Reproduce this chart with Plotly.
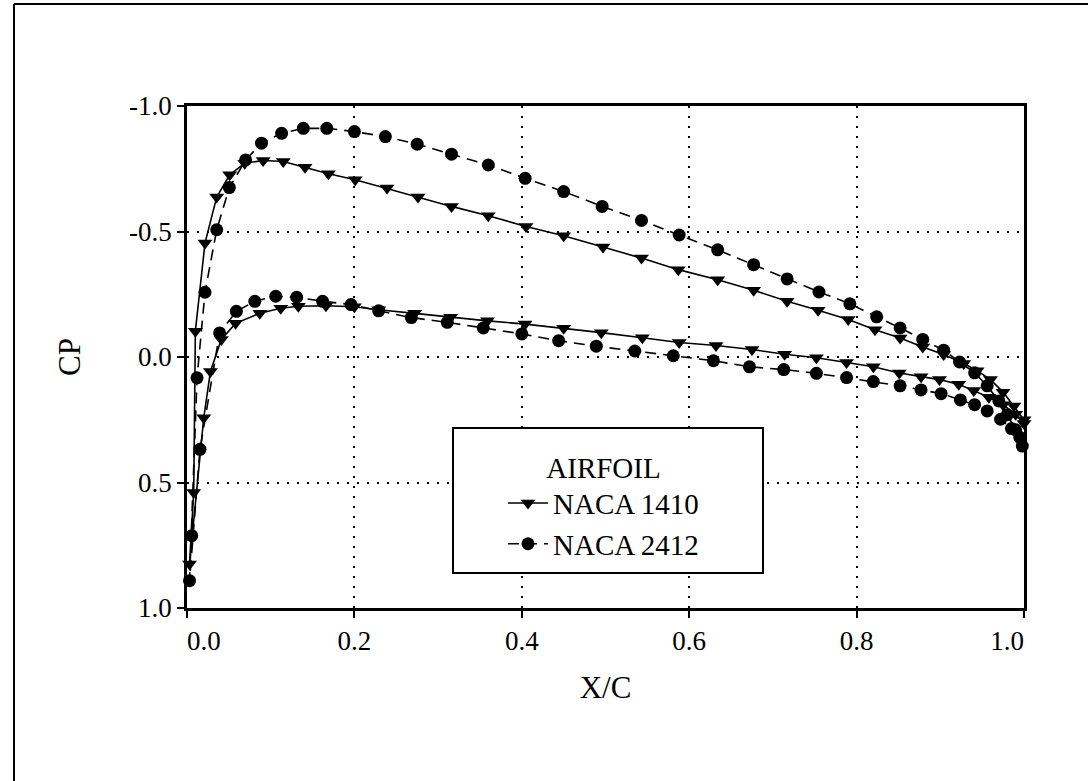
import plotly.graph_objects as go

# ---------------- data ----------------
# NACA 1410: trailing edge -> upper surface -> leading edge -> lower surface -> trailing edge
naca1410_x = [1.000, 0.988, 0.975, 0.960, 0.944, 0.928, 0.904, 0.879, 0.852, 0.822,
              0.790, 0.754, 0.717, 0.677, 0.634, 0.587, 0.543, 0.497, 0.450, 0.405,
              0.360, 0.316, 0.276, 0.239, 0.201, 0.169, 0.141, 0.115, 0.091, 0.069,
              0.051, 0.0355, 0.0215, 0.010, 0.008, 0.003,
              0.020, 0.028, 0.041, 0.058, 0.087, 0.112, 0.133, 0.166, 0.200, 0.229,
              0.272, 0.315, 0.359, 0.404, 0.450, 0.495, 0.544, 0.588, 0.632, 0.675,
              0.714, 0.752, 0.788, 0.820, 0.851, 0.877, 0.899, 0.922, 0.940, 0.958,
              0.975, 0.990, 1.000]
naca1410_cp = [0.250, 0.195, 0.140, 0.090, 0.055, 0.026, -0.010, -0.040, -0.076, -0.109,
               -0.149, -0.186, -0.222, -0.266, -0.308, -0.348, -0.394, -0.438, -0.483, -0.520,
               -0.563, -0.600, -0.637, -0.673, -0.706, -0.730, -0.756, -0.779, -0.783, -0.772,
               -0.726, -0.637, -0.454, -0.103, 0.540, 0.825,
               0.242, 0.058, -0.070, -0.134, -0.174, -0.194, -0.202, -0.204, -0.200, -0.188,
               -0.174, -0.158, -0.144, -0.131, -0.115, -0.097, -0.077, -0.058, -0.046, -0.030,
               -0.011, 0.003, 0.022, 0.039, 0.064, 0.079, 0.090, 0.109, 0.133, 0.160,
               0.190, 0.228, 0.265]

# NACA 2412: trailing edge -> upper surface -> leading edge -> lower surface -> trailing edge
naca2412_x = [0.998, 0.990, 0.980, 0.970, 0.956, 0.941, 0.923, 0.904, 0.879, 0.852,
              0.824, 0.792, 0.755, 0.717, 0.677, 0.634, 0.588, 0.543, 0.496, 0.450,
              0.404, 0.360, 0.316, 0.275, 0.237, 0.200, 0.167, 0.139, 0.113, 0.089,
              0.070, 0.0506, 0.0355, 0.0215, 0.012, 0.0056, 0.003,
              0.0155, 0.039, 0.059, 0.081, 0.106, 0.131, 0.162, 0.196, 0.229, 0.268,
              0.311, 0.354, 0.400, 0.444, 0.489, 0.535, 0.581, 0.629, 0.672, 0.713,
              0.752, 0.788, 0.820, 0.852, 0.877, 0.901, 0.924, 0.941, 0.956, 0.972,
              0.985, 0.995]
naca2412_cp = [0.355, 0.290, 0.230, 0.175, 0.115, 0.063, 0.020, -0.027, -0.070, -0.116,
               -0.160, -0.212, -0.259, -0.311, -0.368, -0.427, -0.486, -0.544, -0.600, -0.659,
               -0.712, -0.765, -0.808, -0.848, -0.878, -0.898, -0.911, -0.911, -0.891, -0.852,
               -0.785, -0.675, -0.507, -0.258, 0.083, 0.712, 0.891,
               0.368, -0.096, -0.182, -0.222, -0.242, -0.238, -0.222, -0.209, -0.184, -0.157,
               -0.138, -0.116, -0.092, -0.065, -0.043, -0.024, -0.005, 0.015, 0.039, 0.050,
               0.065, 0.082, 0.098, 0.115, 0.131, 0.146, 0.171, 0.190, 0.215, 0.248,
               0.285, 0.320]

x_tickvals = [0.0, 0.2, 0.4, 0.6, 0.8, 1.0]
x_ticktext = ["\u00a0\u00a0\u00a0\u00a0\u00a00.0", "0.2", "0.4", "0.6", "0.8",
              "1.0\u00a0\u00a0\u00a0\u00a0\u00a0"]
y_tickvals = [-1.0, -0.5, 0.0, 0.5, 1.0]
y_ticktext = ["-1.0", "-0.5", "0.0", "0.5", "1.0"]

FONT = "Liberation Serif, Times New Roman, serif"

fig = go.Figure()
fig.add_trace(go.Scatter(
    x=naca1410_x, y=naca1410_cp, name="NACA 1410", mode="lines+markers",
    line=dict(color="black", width=1.6, dash="solid"),
    marker=dict(symbol="triangle-down", size=13, color="black"),
    cliponaxis=False))
fig.add_trace(go.Scatter(
    x=naca2412_x, y=naca2412_cp, name="NACA 2412", mode="lines+markers",
    line=dict(color="black", width=1.6, dash="11px,7px"),
    marker=dict(symbol="circle", size=13, color="black"),
    cliponaxis=False))

L, R, T, B = 187, 64, 106, 173
W, H = 1088, 781
pw, ph = W - L - R, H - T - B

def px2paper(px, py):
    return (px - L) / pw, (H - B - py) / ph

# legend frame (white box)
lx0, ly0 = px2paper(453, 573)
lx1, ly1 = px2paper(763, 428)
fig.add_shape(type="rect", xref="paper", yref="paper", x0=lx0, y0=ly0, x1=lx1, y1=ly1,
              line=dict(color="black", width=2), fillcolor="white", layer="above")
# outer page frame (left and top lines)
fx0, fy0 = px2paper(14, 781)
fx1, fy1 = px2paper(1088, 4)
fig.add_shape(type="line", xref="paper", yref="paper", x0=fx0, y0=fy0, x1=fx0, y1=fy1,
              line=dict(color="black", width=2))
fig.add_shape(type="line", xref="paper", yref="paper", x0=fx0, y0=fy1, x1=fx1, y1=fy1,
              line=dict(color="black", width=2))

axis_common = dict(showline=True, linecolor="black", linewidth=2.5, mirror=True,
                   ticks="outside", ticklen=7, tickwidth=1.5, tickcolor="black",
                   showgrid=True, gridcolor="black", gridwidth=2, griddash="2px,8px",
                   zeroline=False, tickfont=dict(family=FONT, size=27, color="black"))

fig.update_xaxes(range=[0, 1], tickvals=x_tickvals, ticktext=x_ticktext,
                 title=dict(text="X/C", font=dict(family=FONT, size=31, color="black"), standoff=22),
                 **axis_common)
fig.update_yaxes(range=[1, -1], tickvals=y_tickvals, ticktext=y_ticktext,
                 title=dict(text="CP", font=dict(family=FONT, size=31, color="black"), standoff=40),
                 **axis_common)

lgx, lgy = px2paper(503, 440)
fig.update_layout(
    width=W, height=H,
    margin=dict(l=L, r=R, t=T, b=B, pad=0),
    paper_bgcolor="white", plot_bgcolor="white",
    font=dict(family=FONT, color="black"),
    showlegend=True,
    legend=dict(x=lgx, y=lgy, xanchor="left", yanchor="top",
                bgcolor="rgba(0,0,0,0)", borderwidth=0,
                font=dict(family=FONT, size=29, color="black"),
                title=dict(text="AIRFOIL", side="top center",
                           font=dict(family=FONT, size=29, color="black")),
                itemwidth=40, tracegroupgap=0),
)

fig.write_html("out.html", config={"displayModeBar": False},
               post_script="document.body.style.margin='0';")
